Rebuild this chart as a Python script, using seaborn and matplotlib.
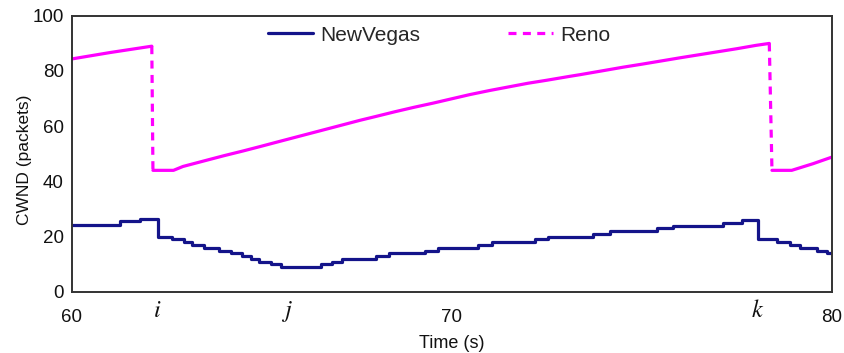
import matplotlib
matplotlib.use("Agg")
import matplotlib.pyplot as plt
import matplotlib.transforms as mtransforms
from matplotlib.lines import Line2D
import pandas as pd
import seaborn as sns

# ---------------- data ----------------
nv_time = [60.0, 61.26, 61.78, 62.27, 62.64, 62.95, 63.17, 63.47, 63.87, 64.18,
           64.48, 64.70, 64.92, 65.23, 65.49, 66.54, 66.85, 67.11, 67.99, 68.34,
           69.30, 69.63, 70.69, 71.04, 72.18, 72.53, 73.72, 74.16, 75.39, 75.82,
           77.14, 77.62, 78.06, 78.54, 78.89, 79.16, 79.60, 79.86, 80.0]
nv_cwnd = [24.4, 25.5, 26.5, 20, 19, 18, 17, 16, 15, 14,
           13, 12, 11, 10, 9, 10, 11, 12, 13, 14,
           15, 16, 17, 18, 19, 20, 21, 22, 23, 24,
           25, 26, 19, 18, 17, 16, 15, 14, 14]

reno_ramp1_time = [60.0, 61.0, 62.1]
reno_ramp1_cwnd = [84.3, 86.6, 88.9]
reno_ramp2_time = [62.13, 62.67, 62.92, 63.5, 64.0, 64.5, 64.95, 65.5, 66.0, 66.5,
                   67.0, 67.58, 68.0, 68.5, 69.0, 69.5, 70.0, 70.47, 71.0, 71.5,
                   72.0, 72.5, 73.1, 73.37, 74.0, 74.5, 75.0, 75.74, 76.0, 76.5,
                   77.0, 77.5, 78.0, 78.35]
reno_ramp2_cwnd = [44.0, 44.0, 45.4, 47.5, 49.3, 51.0, 52.6, 54.6, 56.4, 58.2,
                   60.0, 62.1, 63.5, 65.2, 66.8, 68.3, 69.9, 71.4, 72.9, 74.2,
                   75.5, 76.6, 78.0, 78.6, 80.1, 81.3, 82.4, 84.1, 84.7, 85.8,
                   86.9, 88.0, 89.2, 89.9]
reno_ramp3_time = [78.42, 78.94, 79.5, 80.0]
reno_ramp3_cwnd = [44.0, 44.0, 46.4, 48.8]

x_ticks = [60, 70, 80]
y_ticks = [0, 20, 40, 60, 80, 100]
event_labels = ["i", "j", "k"]
event_times = [62.24, 65.66, 78.03]

NV_COLOR = "#14148a"
RENO_COLOR = "#ff00ff"
DASH = (0, (2.5, 2.0))

# ---------------- style ----------------
sns.set_theme(style="white")
plt.rcParams["font.family"] = ["Liberation Sans", "DejaVu Sans"]
plt.rcParams["mathtext.fontset"] = "stix"

fig = plt.figure(figsize=(8.45, 3.53), dpi=100)
ax = fig.add_axes([72 / 845, 1 - 292 / 353, 760 / 845, 276.5 / 353])

# NewVegas (step line)
nv_df = pd.DataFrame({"time": nv_time, "cwnd": nv_cwnd})
sns.lineplot(data=nv_df, x="time", y="cwnd", ax=ax, color=NV_COLOR, lw=2.3,
             drawstyle="steps-post", estimator=None, sort=False)

# Reno ramps (solid) and drops (dashed)
ramps = [(reno_ramp1_time, reno_ramp1_cwnd),
         (reno_ramp2_time, reno_ramp2_cwnd),
         (reno_ramp3_time, reno_ramp3_cwnd)]
for t, v in ramps:
    sns.lineplot(x=t, y=v, ax=ax, color=RENO_COLOR, lw=2.3,
                 estimator=None, sort=False)
for (t0, v0), (t1, v1) in zip(ramps[:-1], ramps[1:]):
    sns.lineplot(x=[t0[-1], t1[0]], y=[v0[-1], v1[0]], ax=ax, color=RENO_COLOR,
                 lw=2.3, linestyle=DASH, estimator=None, sort=False)

# axes
ax.set_xlim(60, 80)
ax.set_ylim(0, 100)
ax.set_xticks(x_ticks)
ax.set_yticks(y_ticks)
ax.tick_params(axis="both", direction="in", length=4, width=0.8, color="#555555",
               labelsize=13.5, labelcolor="#111111")
ax.tick_params(axis="x", pad=12.5)
ax.tick_params(axis="y", pad=6)
for s in ax.spines.values():
    s.set_visible(True)
    s.set_color("#333333")
    s.set_linewidth(1.4)

ax.set_xlabel("Time (s)", fontsize=13, color="#111111")
ax.xaxis.set_label_coords(0.5, -0.155)
ax.xaxis.label.set_va("top")
ax.set_ylabel("CWND (packets)", fontsize=12.5, color="#111111")
ax.yaxis.set_label_coords(-0.053, 0.477)

trans = mtransforms.blended_transform_factory(ax.transData, ax.transAxes)
for lab, t in zip(event_labels, event_times):
    ax.text(t, -0.07, f"${lab}$", transform=trans, ha="center", va="center",
            fontsize=17.5, color="#111111")

handles = [Line2D([], [], color=NV_COLOR, lw=2.3),
           Line2D([], [], color=RENO_COLOR, lw=2.3, linestyle=DASH)]
ax.legend(handles, ["NewVegas", "Reno"], loc="center", bbox_to_anchor=(0.483, 0.929),
          ncol=2, frameon=False, fontsize=15, handlelength=2.15,
          handletextpad=0.35, columnspacing=4.2, borderaxespad=0)

fig.savefig("out.png", dpi=100)
